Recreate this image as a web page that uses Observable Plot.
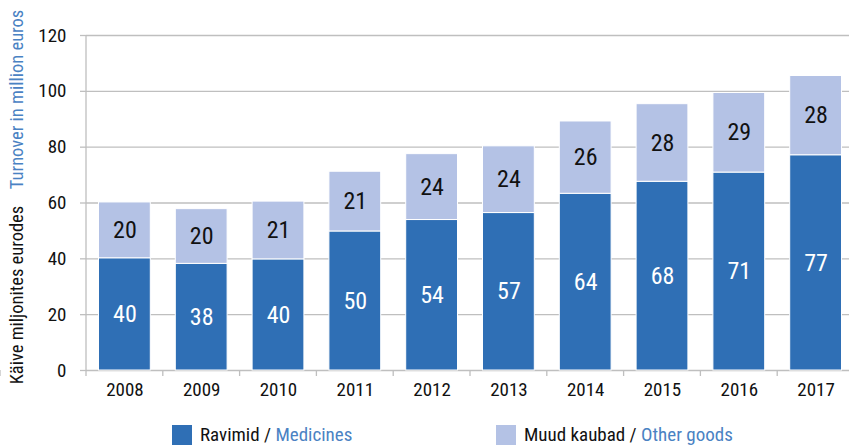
<!DOCTYPE html>
<html>
<head>
<meta charset="utf-8">
<script src="https://cdn.jsdelivr.net/npm/d3@7"></script>
<script src="https://cdn.jsdelivr.net/npm/@observablehq/plot@0.6"></script>
<style>
  body { margin: 0; background: #fff; }
  #wrap { position: relative; width: 849px; height: 447px; overflow: hidden; font-family: "Roboto Condensed", "Liberation Sans Narrow", "Roboto", sans-serif; }
  #legend { position: absolute; left: 0; top: 0; width: 849px; height: 447px; pointer-events: none; }
  .li { position: absolute; top: 423px; display: flex; align-items: center; font-size: 19px; color: #111; white-space: nowrap; }
  .sw { width: 20px; height: 20px; margin-right: 8px; }
  .blue { color: #4a82c3; }
</style>
</head>
<body>
<div id="wrap"></div>
<script>
const years = ["2008","2009","2010","2011","2012","2013","2014","2015","2016","2017"];
const medicines = [40.2, 38.2, 39.8, 49.8, 53.9, 56.4, 63.3, 67.6, 70.9, 77.1];
const otherGoods = [20.0, 19.6, 20.7, 21.4, 23.6, 23.9, 25.9, 27.8, 28.5, 28.4];
const medicineLabels = ["40", "38", "40", "50", "54", "57", "64", "68", "71", "77"];
const otherLabels = ["20", "20", "21", "21", "24", "24", "26", "28", "29", "28"];
const seriesNames = ["Ravimid / Medicines", "Muud kaubad / Other goods"];
const seriesColors = ["#2f6fb5", "#b4c2e5"];
const yTicks = [0, 20, 40, 60, 80, 100, 120];

const FONT = '"Roboto Condensed", "Liberation Sans Narrow", "Roboto", sans-serif';

const rows = [];
years.forEach((y, i) => {
  rows.push({year: y, series: seriesNames[0], value: medicines[i], base: 0, label: medicineLabels[i]});
  rows.push({year: y, series: seriesNames[1], value: otherGoods[i], base: medicines[i], label: otherLabels[i]});
});

const xTicksMark = (index, scales) => {
  const g = d3.create("svg:g");
  const y0 = scales.y(0);
  const xs = years.map(y => scales.x(y));
  xs.push(scales.x(years[years.length - 1]) + scales.x.bandwidth);
  for (const x of xs) {
    g.append("line").attr("x1", x).attr("x2", x).attr("y1", y0).attr("y2", y0 + 6)
      .attr("stroke", "#bfbfbf").attr("stroke-width", 1.3);
  }
  return g.node();
};

const yAxisLine = (index, s) => {
  const g = d3.create("svg:g");
  g.append("line").attr("x1", s.x(years[0])).attr("x2", s.x(years[0]))
    .attr("y1", s.y(0)).attr("y2", s.y(120)).attr("stroke", "#bfbfbf").attr("stroke-width", 1.3);
  return g.node();
};

const plot = Plot.plot({
  width: 849,
  height: 405,
  marginTop: 35,
  marginBottom: 35,
  marginLeft: 86,
  marginRight: -5,
  style: {fontFamily: FONT, fontSize: "19px", color: "#111", background: "#fff", overflow: "visible"},
  x: {domain: years, padding: 0, round: false, label: null},
  y: {domain: [0, 120], label: null},
  color: {domain: seriesNames, range: seriesColors},
  marks: [
    Plot.gridY(yTicks, {stroke: "#bfbfbf", strokeOpacity: 1, strokeWidth: 1.3}),
    yAxisLine,
    Plot.axisY(yTicks, {tickSize: 6, tickPadding: 14, stroke: "#bfbfbf", strokeWidth: 1.3, fill: "#111", fontSize: 19}),
    Plot.axisX({tickSize: 0, tickPadding: 12, fontSize: 19, fill: "#111"}),
    xTicksMark,
    Plot.rectY(rows, {x: "year", y1: "base", y2: d => d.base + d.value, fill: "series", stroke: "#fff", strokeWidth: 1, insetLeft: 12.5, insetRight: 12.5}),
    Plot.text(rows, {x: "year", y: d => d.base + d.value / 2, text: "label",
      fill: d => d.series === seriesNames[0] ? "#fff" : "#111", fontSize: 24})
  ]
});

const wrap = document.getElementById("wrap");
wrap.appendChild(plot);

// rotated y-axis title
const svg = d3.select(plot);
const t = svg.append("text")
  .attr("transform", "translate(23,197) rotate(-90)")
  .attr("text-anchor", "middle")
  .style("font-family", FONT)
  .style("font-size", "18.5px");
t.append("tspan").attr("fill", "#111").text("Käive miljonites eurodes");
t.append("tspan").attr("fill", "#4a82c3").text("\u2002\u2002Turnover in million euros");

// legend
const legend = document.createElement("div");
legend.id = "legend";
const parts = [["Ravimid / ", "Medicines"], ["Muud kaubad / ", "Other goods"]];
const lefts = [172, 496];
parts.forEach((p, i) => {
  const d = document.createElement("div");
  d.className = "li";
  d.style.left = lefts[i] + "px";
  d.innerHTML = `<span class="sw" style="background:${seriesColors[i]}"></span><span>${p[0]}<span class="blue">${p[1]}</span></span>`;
  legend.appendChild(d);
});
wrap.appendChild(legend);
</script>
</body>
</html>
